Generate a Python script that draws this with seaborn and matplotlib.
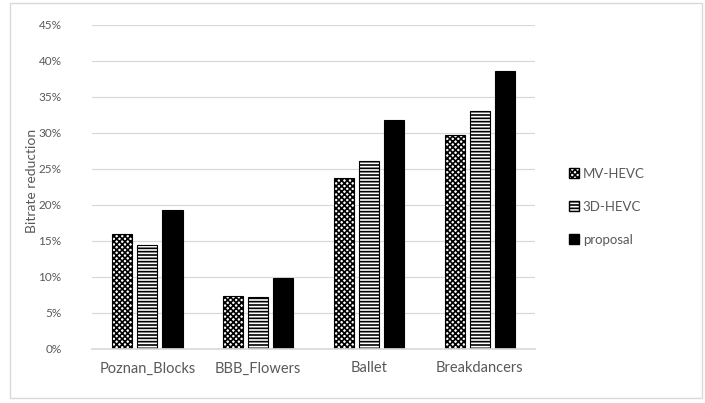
import seaborn as sns
import matplotlib.pyplot as plt
import pandas as pd
from matplotlib.patches import Rectangle, Patch
from matplotlib.ticker import PercentFormatter

# values (fraction of bitrate saved)
sequences = ["Poznan_Blocks", "BBB_Flowers", "Ballet", "Breakdancers"]
methods = ["MV-HEVC", "3D-HEVC", "proposal"]
mv_hevc = [0.160, 0.073, 0.237, 0.297]
hevc_3d = [0.145, 0.072, 0.261, 0.331]
proposal = [0.193, 0.098, 0.318, 0.386]
y_ticks = [0.0, 0.05, 0.10, 0.15, 0.20, 0.25, 0.30, 0.35, 0.40, 0.45]

text_grey = "#595959"
fills = {"MV-HEVC": "white", "3D-HEVC": "white", "proposal": "black"}
hatches = {"MV-HEVC": "xxxxxx", "3D-HEVC": "-----", "proposal": ""}

fr = pd.DataFrame({
    "sequence": sequences * 3,
    "method": [m for m in methods for _ in sequences],
    "reduction": mv_hevc + hevc_3d + proposal,
})

sns.set_theme(style="white")
plt.rcParams["font.family"] = ["Lato", "DejaVu Sans"]
plt.rcParams["hatch.linewidth"] = 1.2

fig = plt.figure(figsize=(7.05, 4.03), dpi=100)
ax = fig.add_axes([0.1305, 0.134, 0.6285, 0.804])

sns.barplot(data=fr, x="sequence", y="reduction", hue="method",
            order=sequences, hue_order=methods, palette=fills,
            width=0.68, gap=0.2, edgecolor="black", linewidth=0.8,
            legend=False, ax=ax)

for container, m in zip(ax.containers, methods):
    for bar in container:
        bar.set_hatch(hatches[m])
        bar.set_edgecolor("black")

ax.set_ylim(0, 0.45)
ax.set_yticks(y_ticks)
ax.yaxis.set_major_formatter(PercentFormatter(1.0, decimals=0))
ax.set_xlim(-0.5, 3.5)
ax.grid(axis="y", color="#d9d9d9", linewidth=0.9)
ax.set_axisbelow(True)
sns.despine(ax=ax, left=True, top=True, right=True)
ax.spines["bottom"].set_color("#d9d9d9")

ax.set_xlabel("")
ax.set_ylabel("Bitrate reduction", color=text_grey, fontsize=10)
ax.yaxis.set_label_coords(-0.121, 0.52)
ax.tick_params(axis="y", length=0, pad=22, labelsize=8.5, labelcolor=text_grey)
ax.tick_params(axis="x", length=0, pad=9, labelsize=10.5, labelcolor=text_grey)

handles = [Patch(facecolor=fills[m], edgecolor="black", hatch=hatches[m], label=m)
           for m in methods]
fig.legend(handles=handles, loc="center left", bbox_to_anchor=(0.79, 0.487),
           frameon=False, handlelength=0.75, handleheight=0.75, handletextpad=0.3,
           labelspacing=1.6, prop={"size": 9.5}, labelcolor=text_grey)

# light frame round the whole chart
fig.patches.append(Rectangle((0.0142, 0.0124), 0.9816, 0.980, transform=fig.transFigure,
                             fill=False, edgecolor="#d9d9d9", linewidth=1))

fig.savefig("out.png", dpi=100)
plt.close(fig)
